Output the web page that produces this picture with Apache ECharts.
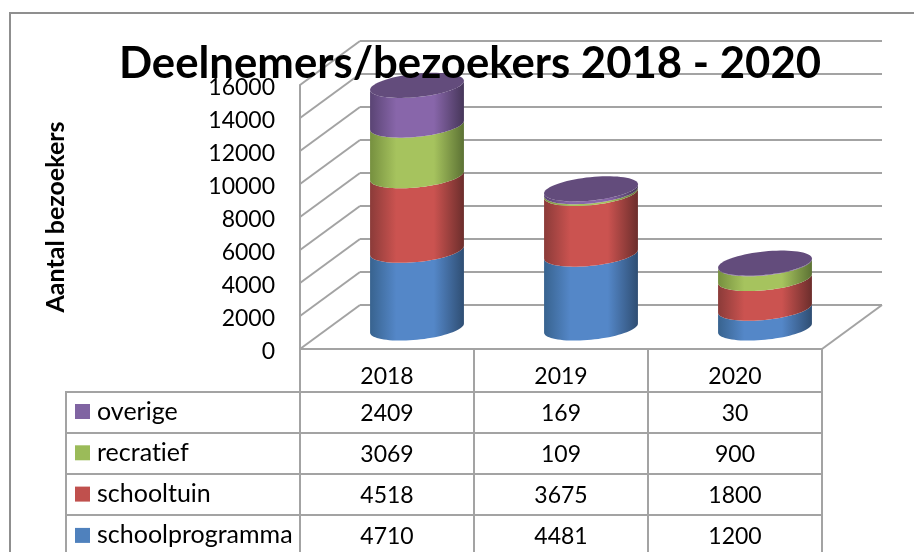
<!DOCTYPE html>
<html><head><meta charset="utf-8">
<style>html,body{margin:0;padding:0;background:#fff}#c{width:914px;height:552px}</style>
<script src="https://cdn.jsdelivr.net/npm/echarts@6/dist/echarts.min.js"></script>
</head><body><div id="c"></div>
<script>
const categories = ['2018','2019','2020'];
const schoolprogramma = [4710,4481,1200];
const schooltuin = [4518,3675,1800];
const recratief = [3069,109,900];
const overige = [2409,169,30];
const yTicks = [0,2000,4000,6000,8000,10000,12000,14000,16000];
const seriesNames = ['schoolprogramma','schooltuin','recratief','overige'];
const seriesValues = [schoolprogramma,schooltuin,recratief,overige];
const legendOrder = ['overige','recratief','schooltuin','schoolprogramma'];
const swatch = {schoolprogramma:'#4f81bd',schooltuin:'#c0504d',recratief:'#9bbb59',overige:'#8064a2'};
const shades = {
  schoolprogramma:['#38638f','#5487c8','#2f4e73'],
  schooltuin:['#8b3b39','#cb5350','#6c2e2c'],
  recratief:['#76903f','#a6c35e','#5c7234'],
  overige:['#5a4474','#8866aa','#463659']
};
const topColor = '#634c7c';
const FONT = 'Lato';
const DX = 60, DY = 44;           // depth of the floor
const GRID = '#a3a3a3', FRAME = '#8f8f8f';
const ROW_Y = [414,455,496,537];  // table row centres

// Draw text without Lato's "ti" ligature, as in the reference face
const origFill = CanvasRenderingContext2D.prototype.fillText;
CanvasRenderingContext2D.prototype.fillText = function(){
  this.textRendering = 'optimizeSpeed';
  return origFill.apply(this, arguments);
};

const chart = echarts.init(document.getElementById('c'), null, {renderer:'canvas'});

function cylinderItem(si){
  return function(params, api){
    const idx = api.value(0), lo = api.value(1), hi = api.value(2);
    const a = api.coord([idx, lo]), b = api.coord([idx, hi]);
    const r = api.size([1,0])[0] / 174;
    const ux = 45.5*r, uy = -1.5*r, vx = 11.5*r, vy = -12.5*r;
    const cx = a[0] + DX/2, y0 = a[1] - DY/2 + 1, y1 = b[1] - DY/2 + 1;
    const th = Math.atan2(vx, ux);
    const pt = (t, y) => [cx + ux*Math.cos(t) + vx*Math.sin(t), y + uy*Math.cos(t) + vy*Math.sin(t)];
    const pts = [];
    const N = 40;
    for (let i=0;i<=N;i++) pts.push(pt(th - Math.PI*i/N, y0));   // lower arc right -> left
    for (let i=N;i>=0;i--) pts.push(pt(th - Math.PI*i/N, y1));   // upper arc left -> right
    const s = shades[seriesNames[si]];
    const children = [{
      type:'polygon', shape:{points:pts},
      style:{fill:new echarts.graphic.LinearGradient(0,0,1,0,[
        {offset:0,color:s[0]},{offset:0.28,color:s[1]},{offset:0.68,color:s[1]},{offset:1,color:s[2]}])}
    }];
    if (si === seriesNames.length-1){
      const e = [];
      for (let i=0;i<72;i++) e.push(pt(Math.PI*2*i/72, y1));
      children.push({type:'polygon',shape:{points:e},style:{fill:topColor}});
    }
    return {type:'group',children};
  };
}

const cylSeries = seriesNames.map((name,si)=>({
  name, type:'custom', coordinateSystem:'cartesian2d', z:3,
  itemStyle:{color:swatch[name]},
  encode:{x:0,y:[1,2]},
  renderItem:cylinderItem(si),
  data:categories.map((c,i)=>{
    let lo=0; for(let k=0;k<si;k++) lo+=seriesValues[k][i];
    return [i,lo,lo+seriesValues[si][i]];
  })
}));

// 3-D walls: every tick gives a slanted line on the side wall and a line on the back wall
const wallSeries = {
  type:'custom', coordinateSystem:'cartesian2d', z:1, silent:true, legendHoverLink:false,
  encode:{y:0},
  renderItem(params, api){
    const v = api.value(0);
    const p = api.coord([0, v]);
    const halfCat = api.size([1,0])[0]/2;
    const xl = p[0]-halfCat, xr = api.coord([categories.length-1, v])[0]+halfCat;
    const ls = {stroke:GRID,lineWidth:2};
    return {type:'group',children:[
      {type:'line',shape:{x1:xl,y1:p[1],x2:xl+DX,y2:p[1]-DY},style:ls},
      {type:'line',shape:{x1:xl+DX,y1:p[1]-DY,x2:xr+DX,y2:p[1]-DY},style:ls},
      ...(v===0?[{type:'line',shape:{x1:xr,y1:p[1],x2:xr+DX,y2:p[1]-DY},style:ls}]:[])
    ]};
  },
  data:yTicks.map(v=>[v])
};

// data table cells
const tableSeries = {
  type:'custom', coordinateSystem:'cartesian2d', z:4, silent:true,
  encode:{x:0},
  renderItem(params, api){
    const p = api.coord([api.value(0), 0]);
    return {type:'text',style:{x:p[0],y:ROW_Y[api.value(1)],text:String(api.value(2)),
      textAlign:'center',textVerticalAlign:'middle',font:'23px '+FONT,fill:'#000'}};
  },
  data:legendOrder.flatMap((name,row)=>
    categories.map((c,i)=>[i,row,seriesValues[seriesNames.indexOf(name)][i]]))
};

function tl(x1,y1,x2,y2,color){
  return {type:'line',z:2,shape:{x1,y1,x2,y2},style:{stroke:color||GRID,lineWidth:2},silent:true};
}
const graphics = [
  tl(9,13,914,13,FRAME), tl(10,12,10,552,FRAME),
  tl(66,392,822,392), tl(66,433,822,433), tl(66,474,822,474), tl(66,515,822,515),
  tl(66,391,66,552), tl(300,349,300,552), tl(474,349,474,552), tl(648,349,648,552), tl(822,349,822,552)
];

chart.setOption({
  animation:false,
  backgroundColor:'#fff',
  title:{text:'Deelnemers/bezoekers 2018 - 2020',left:465,top:37,textAlign:'center',
    textStyle:{fontFamily:FONT,fontWeight:'bold',fontSize:43.7,color:'#000'}},
  legend:{orient:'vertical',left:75,top:399,height:300,padding:0,itemWidth:15,itemHeight:15,itemGap:16.3,
    selectedMode:false,icon:'rect',data:legendOrder,
    textStyle:{fontFamily:FONT,fontSize:25,lineHeight:25,color:'#000',padding:[0,0,0,2]}},
  grid:{left:300,top:85,width:522,height:264,containLabel:false},
  xAxis:{type:'category',data:categories,boundaryGap:true,
    axisLine:{show:true,lineStyle:{color:GRID,width:2}},axisTick:{show:false},
    axisLabel:{fontFamily:FONT,fontSize:23,color:'#000',margin:16}},
  yAxis:{type:'value',min:0,max:16000,interval:2000,
    name:'Aantal bezoekers',nameLocation:'middle',nameGap:232,nameRotate:90,
    nameTextStyle:{fontFamily:FONT,fontWeight:'bold',fontSize:25,color:'#000'},
    splitLine:{show:false},axisTick:{show:false},
    axisLine:{show:true,lineStyle:{color:GRID,width:2}},
    axisLabel:{fontFamily:FONT,fontSize:23,color:'#000',margin:25,verticalAlign:'top',lineHeight:6,
      formatter:v=>String(v)}},
  graphic:graphics,
  series:[wallSeries,...cylSeries,tableSeries]
});
</script></body></html>
